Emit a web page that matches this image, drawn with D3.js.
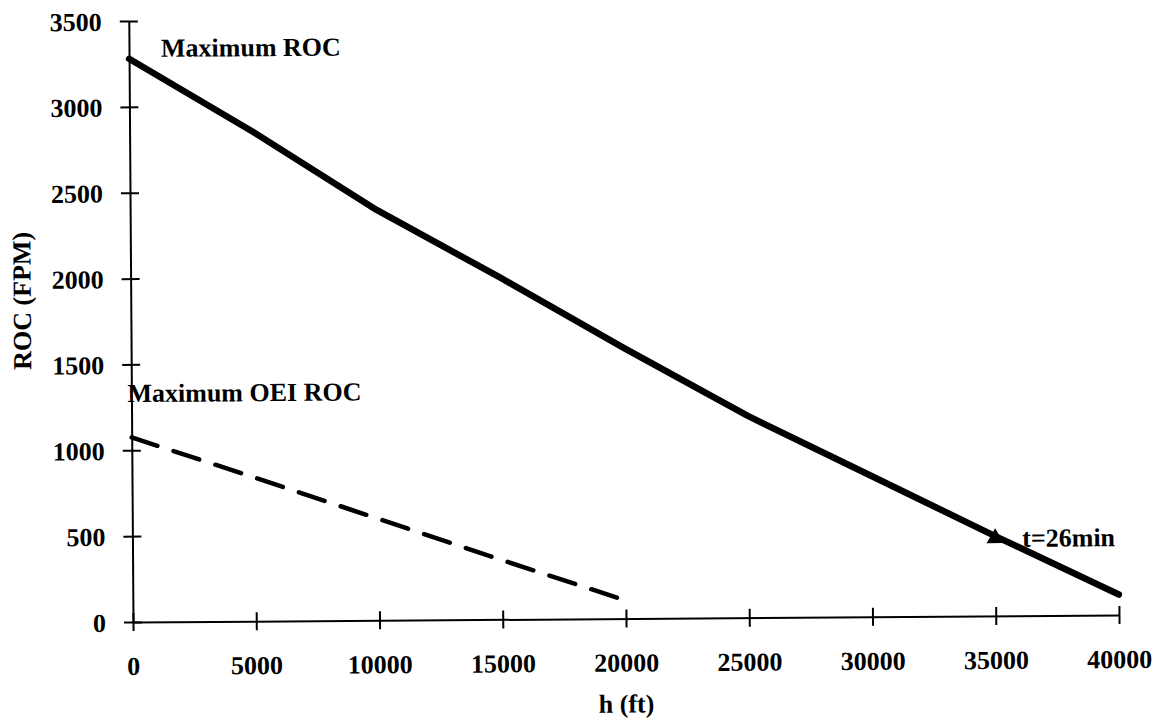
<!DOCTYPE html>
<html>
<head>
<meta charset="utf-8">
<script src="https://cdn.jsdelivr.net/npm/d3@7"></script>
<style>
  html, body { margin: 0; padding: 0; background: #fff; }
  svg { display: block; }
  text { font-family: "Liberation Serif", "Times New Roman", serif; font-weight: bold; fill: #000; }
</style>
</head>
<body>
<svg id="chart" width="1162" height="719"></svg>
<script>
// ---- data ----
const altitudes = [0, 5000, 10000, 15000, 20000, 25000, 30000, 35000, 40000];
const maxROC = [3280, 2850, 2390, 1990, 1575, 1175, 820, 465, 120];
const oeiAltitudes = [0, 5000, 10000, 15000, 20000];
const oeiROC = [1075, 835, 590, 345, 105];
const markerPoint = { h: 35000, roc: 465, label: "t=26min" };
const xTicks = [0, 5000, 10000, 15000, 20000, 25000, 30000, 35000, 40000];
const yTicks = [0, 500, 1000, 1500, 2000, 2500, 3000, 3500];
const xTitle = "h (ft)";
const yTitle = "ROC (FPM)";
const maxLabel = "Maximum ROC";
const oeiLabel = "Maximum OEI ROC";

// ---- layout ----
const svg = d3.select("#chart");
const ox = 133, oy = 622;
const g = svg.append("g").attr("transform", `rotate(-0.4, ${ox}, ${oy})`);

const x = d3.scaleLinear().domain([0, 40000]).range([ox, 1119]);
const y = d3.scaleLinear().domain([0, 3500]).range([oy, 21]);

// axes
const xAxis = d3.axisBottom(x).tickValues(xTicks).tickSize(0).tickFormat(d3.format("d"));
const yAxis = d3.axisLeft(y).tickValues(yTicks).tickSize(0).tickFormat(d3.format("d"));

const gx = g.append("g").attr("transform", `translate(0,${oy})`).call(xAxis);
gx.select(".domain").attr("stroke", "#000").attr("stroke-width", 2);
gx.selectAll(".tick line").remove();
gx.selectAll(".tick").append("line").attr("y1", -9).attr("y2", 9).attr("stroke", "#000").attr("stroke-width", 2);
gx.selectAll(".tick text").attr("y", 53).attr("dy", 0).attr("font-size", 26)
  .attr("font-family", "Liberation Serif, serif").attr("font-weight", "bold").attr("fill", "#000");

const gy = g.append("g").attr("transform", `translate(${ox},0)`).call(yAxis);
gy.select(".domain").attr("stroke", "#000").attr("stroke-width", 2);
gy.selectAll(".tick line").remove();
gy.selectAll(".tick").append("line").attr("x1", -9).attr("x2", 9).attr("stroke", "#000").attr("stroke-width", 2);
gy.selectAll(".tick text").attr("x", -27).attr("dy", "0.35em").attr("font-size", 26)
  .attr("font-family", "Liberation Serif, serif").attr("font-weight", "bold").attr("fill", "#000");

// axis titles
g.append("text").attr("x", x(20000)).attr("y", oy + 94).attr("text-anchor", "middle")
  .attr("font-size", 26).text(xTitle);
g.append("text").attr("transform", `translate(33, 300) rotate(-90)`).attr("text-anchor", "middle")
  .attr("font-size", 26).text(yTitle);

// lines
const line = d3.line().x(d => x(d[0])).y(d => y(d[1]));
g.append("path")
  .datum(d3.zip(altitudes, maxROC))
  .attr("d", line).attr("fill", "none").attr("stroke", "#000")
  .attr("stroke-width", 6.5).attr("stroke-linejoin", "round").attr("stroke-linecap", "round");

g.append("path")
  .datum(d3.zip(oeiAltitudes, oeiROC))
  .attr("d", line).attr("fill", "none").attr("stroke", "#000")
  .attr("stroke-width", 4.5).attr("stroke-dasharray", "27,17").attr("stroke-linecap", "round");

// marker
g.append("path")
  .attr("d", d3.symbol().type(d3.symbolTriangle).size(130)())
  .attr("transform", `translate(${x(markerPoint.h)},${y(markerPoint.roc) + 2})`)
  .attr("fill", "#000");

// labels
g.append("text").attr("x", 165).attr("y", 57).attr("font-size", 26).text(maxLabel);
g.append("text").attr("x", 129).attr("y", 402).attr("font-size", 26).text(oeiLabel);
g.append("text").attr("x", x(markerPoint.h) + 27).attr("y", y(markerPoint.roc) + 88 - 0).attr("font-size", 26)
  .attr("dy", 0).attr("y", 553).text(markerPoint.label);
</script>
</body>
</html>
